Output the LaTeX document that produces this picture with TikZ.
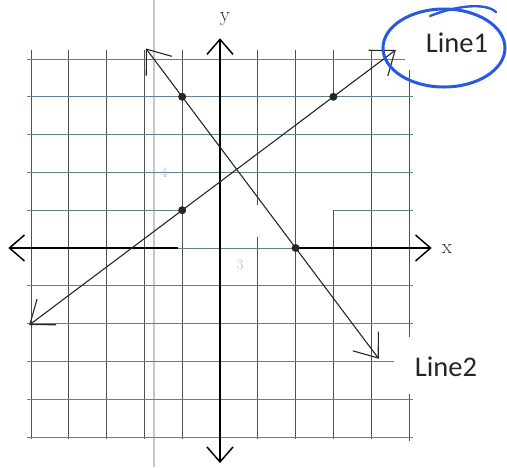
\documentclass[tikz,border=0pt]{standalone}
\usepackage{fontspec}
\newfontfamily\calib{Carlito}
\usetikzlibrary{arrows.meta}
\definecolor{vgridc}{RGB}{80,80,80}
\definecolor{hgridc}{RGB}{100,130,142}
\definecolor{inkblue}{RGB}{40,90,225}
\definecolor{faintc}{RGB}{170,195,212}
\tikzset{
  axb/.tip={Straight Barb[length=15pt,width=26pt]},
  lnb/.tip={Straight Barb[length=21pt,width=32pt]}
}
\begin{document}
\begin{tikzpicture}[x=1pt,y=-1pt,
  vg/.style={vgridc, line width=0.9pt},
  hg/.style={hgridc, line width=0.9pt},
  axisline/.style={black, line width=1.5pt},
  graphline/.style={black!85, line width=1.1pt},
  dotc/.style={circle, fill=black!85, inner sep=0pt, minimum size=8pt},
  lbl/.style={font=\calib\fontsize{28.5}{31}\selectfont, text=black!85},
  axlbl/.style={font=\fontsize{21}{24}\selectfont, text=black!80},
  faintlbl/.style={font=\fontsize{15}{18}\selectfont, text=faintc}]
\useasboundingbox (0,0) rectangle (507,467);
\fill[white] (0,0) rectangle (507,467);
% scan edge line
\draw[gray!45, line width=1.3pt] (154,0) -- (154,467);
\begin{scope}[shift={(220,248)}, x=37.8pt, y=37.8pt]
  % vertical grid lines
  \foreach \i in {-5,-4,-3,-2,-1,0,2,4}
    \draw[vg] (\i,5.25) -- (\i,-5.05);
  \draw[vg] (1,5.25) -- (1,1.15) (1,0.3) -- (1,-5.05);
  \draw[vg] (3,5.25) -- (3,4) (3,1) -- (3,-5.05);
  \draw[vg] (5,4.7) -- (5,-2.35) (5,-3.85) -- (5,-5.1);
  % horizontal grid lines
  \foreach \j in {-5,-4,-2,-1,2,3,4}
    \draw[hg] (-5.1,\j) -- (5.1,\j);
  \draw[hg] (-5.1,5) -- (4.9,5);
  \draw[hg] (-5.1,1) -- (-1,1) (3,1) -- (5.1,1);
  \draw[hg] (-5.1,-3) -- (4.6,-3);
  \draw[hg] (-5.1,0) -- (5.1,0);
  % axes
  \coordinate (xl) at (-5.6,0);
  \coordinate (xa) at (-1.1,0);
  \coordinate (xb) at (2,0);
  \coordinate (xr) at (5.6,0);
  \coordinate (yb) at (0,-5.69);
  \coordinate (yt) at (0,5.55);
  \draw[axisline, axb-] (xl) -- (xa);
  \draw[axisline, -axb] (xb) -- (xr);
  \draw[axisline, axb-axb] (yb) -- (yt);
  % lines
  \coordinate (L1a) at (-5.05,-2.04);
  \coordinate (L1b) at (4.65,5.24);
  \coordinate (L2a) at (-1.96,5.28);
  \coordinate (L2b) at (4.2,-2.93);
  \draw[graphline, lnb-lnb] (L1a) -- (L1b);
  \draw[graphline, lnb-lnb] (L2a) -- (L2b);
  % points
  \node[dotc] (p1) at (-1,1) {};
  \node[dotc] (p2) at (3,4) {};
  \node[dotc] (p3) at (-1,4) {};
  \node[dotc] (p4) at (2,0) {};
\end{scope}
% labels
\node[axlbl] (ylab) at (225,19) {y};
\node[axlbl] (xlab) at (447,249) {x};
\node[faintlbl] (four) at (164,172) {4};
\node[faintlbl] (three) at (240,265) {3};
\node[lbl] (line1) at (457,43) {Line1};
\node[lbl] (line2) at (446,367) {Line2};
% blue circle around Line1
\draw[inkblue, line width=3pt] (444,48) ellipse [x radius=61, y radius=39];
\draw[inkblue, line width=2.4pt, line cap=round] (430,16) .. controls (455,6) and (485,2) .. (496,12);
\end{tikzpicture}
\end{document}
